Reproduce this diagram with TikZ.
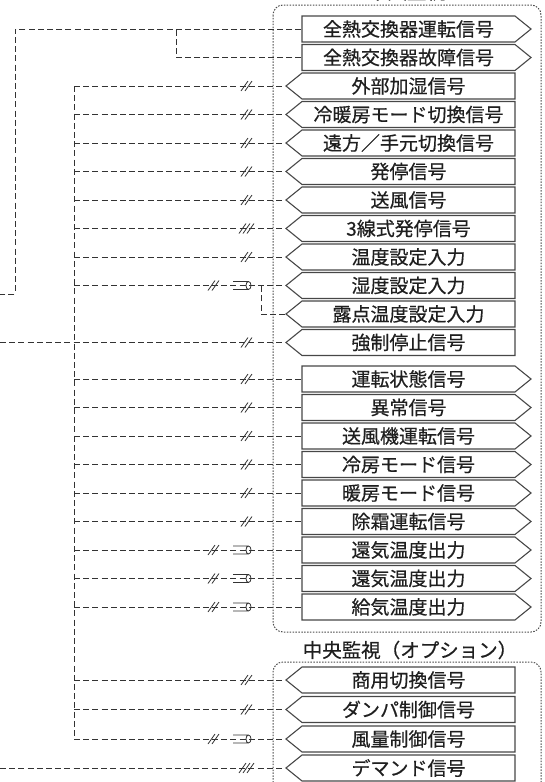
\documentclass[tikz,border=0pt]{standalone}
\usepackage{fontspec}
\newfontfamily\jp[FakeBold=0.5]{Noto Sans CJK JP}
\usepackage{tikz}
\usetikzlibrary{shapes,shapes.symbols,positioning}
\usepackage{xcolor}
\definecolor{wirec}{gray}{0.2}
\definecolor{boxc}{gray}{0.28}
\definecolor{dotc}{gray}{0.3}
\definecolor{txtc}{gray}{0.12}

\begin{document}
\begin{tikzpicture}[x=1pt, y=-1pt,
    wire/.style={draw=wirec, line width=0.9pt, dash pattern=on 6pt off 3.2pt},
    frame/.style={draw=dotc, line width=1pt, dash pattern=on 1.5pt off 1.4pt, rounded corners=10pt},
    sigout/.style={signal, signal to=east, signal pointer angle=78, draw=boxc, line width=1.1pt,
        minimum width=229pt, minimum height=26pt, inner sep=0pt, text=txtc, font=\jp\fontsize{19}{21}\selectfont},
    sigin/.style={sigout, signal to=west},
    label/.style={text=txtc, font=\jp\fontsize{19.5}{21}\selectfont},
    dbl/.pic={\draw[solid, draw=wirec, line width=0.8pt] (-6,5) -- (1,-5) (-2,5) -- (5,-5);},
    tpl/.pic={\draw[solid, draw=wirec, line width=0.8pt] (-8,5) -- (-1,-5) (-4,5) -- (3,-5) (0,5) -- (7,-5);},
    shield/.pic={\draw[solid, draw=wirec, line width=0.8pt] (-7,-4) -- (8,-4) (-7,4) -- (8,4) (8.5,0) ellipse (2.5 and 4);}
  ]
    \useasboundingbox (0,0) rectangle (544,782);

    % unit side (top frame)
    \draw[frame] (273,5) rectangle (541,632);
    \node[label, anchor=base] (top) at (407,-1) {中央監視};

    \node[sigout] (s1) at (408.5,29) {全熱交換器運転信号};
    \node[sigout] (s2) at (408.5,57.5) {全熱交換器故障信号};
    \node[sigin] (s3) at (408.5,86) {外部加湿信号};
    \node[sigin] (s4) at (408.5,114.5) {冷暖房モード切換信号};
    \node[sigin] (s5) at (408.5,143) {遠方／手元切換信号};
    \node[sigin] (s6) at (408.5,171.5) {発停信号};
    \node[sigin] (s7) at (408.5,200) {送風信号};
    \node[sigin] (s8) at (408.5,228.5) {3線式発停信号};
    \node[sigin] (s9) at (408.5,257) {温度設定入力};
    \node[sigin] (s10) at (408.5,285.5) {湿度設定入力};
    \node[sigin] (s11) at (408.5,314) {露点温度設定入力};
    \node[sigin] (s12) at (408.5,342.5) {強制停止信号};

    \node[sigout] (s13) at (408.5,379) {運転状態信号};
    \node[sigout] (s14) at (408.5,407.5) {異常信号};
    \node[sigout] (s15) at (408.5,436) {送風機運転信号};
    \node[sigout] (s16) at (408.5,464.5) {冷房モード信号};
    \node[sigout] (s17) at (408.5,493) {暖房モード信号};
    \node[sigout] (s18) at (408.5,521.5) {除霜運転信号};
    \node[sigout] (s19) at (408.5,550) {還気温度出力};
    \node[sigout] (s20) at (408.5,578.5) {還気温度出力};
    \node[sigout] (s21) at (408.5,607) {給気温度出力};

    % option side (bottom frame)
    \node[label] (opt) at (410,650) {中央監視（オプション）};
    \draw[frame] (273,800) -- (273,662) -- (541,662) -- (541,800);

    \node[sigin] (s22) at (408.5,680) {商用切換信号};
    \node[sigin] (s23) at (408.5,709.5) {ダンパ制御信号};
    \node[sigin] (s24) at (408.5,739) {風量制御信号};
    \node[sigin] (s25) at (408.5,768) {デマンド信号};

    % helper points for the wiring
    \coordinate (edge) at (0,0);
    \coordinate (lft) at (15,294);
    \coordinate (bus) at (74,0);
    \coordinate (brA) at (176,0);
    \coordinate (brB) at (261,0);
    \coordinate (sh) at (214,0);
    \coordinate (shd) at (240,0);
    \coordinate (mk) at (247,0);

    % wiring
    \draw[wire] (s1.west) -| (lft) -- (edge |- lft);
    \draw[wire] (s2.west) -| (brA |- s1.west);
    \draw[wire] (bus |- s3.west) -- (bus |- s24.west);

    \draw[wire] (bus |- s3.west) -- (s3.west) (mk |- s3.west) pic {dbl};
    \draw[wire] (bus |- s4.west) -- (s4.west) (mk |- s4.west) pic {dbl};
    \draw[wire] (bus |- s5.west) -- (s5.west) (mk |- s5.west) pic {dbl};
    \draw[wire] (bus |- s6.west) -- (s6.west) (mk |- s6.west) pic {dbl};
    \draw[wire] (bus |- s7.west) -- (s7.west) (mk |- s7.west) pic {dbl};
    \draw[wire] (bus |- s8.west) -- (s8.west) (mk |- s8.west) pic {tpl};
    \draw[wire] (bus |- s9.west) -- (s9.west) (mk |- s9.west) pic {dbl};
    \draw[wire] (bus |- s10.west) -- (s10.west) (sh |- s10.west) pic {dbl} (shd |- s10.west) pic {shield};
    \draw[wire] (s11.west) -| (brB |- s10.west);
    \draw[wire] (edge |- s12.west) -- (s12.west) (mk |- s12.west) pic {dbl};

    \draw[wire] (bus |- s13.west) -- (s13.west) (mk |- s13.west) pic {dbl};
    \draw[wire] (bus |- s14.west) -- (s14.west) (mk |- s14.west) pic {dbl};
    \draw[wire] (bus |- s15.west) -- (s15.west) (mk |- s15.west) pic {dbl};
    \draw[wire] (bus |- s16.west) -- (s16.west) (mk |- s16.west) pic {dbl};
    \draw[wire] (bus |- s17.west) -- (s17.west) (mk |- s17.west) pic {dbl};
    \draw[wire] (bus |- s18.west) -- (s18.west) (mk |- s18.west) pic {dbl};
    \draw[wire] (bus |- s19.west) -- (s19.west) (sh |- s19.west) pic {dbl} (shd |- s19.west) pic {shield};
    \draw[wire] (bus |- s20.west) -- (s20.west) (sh |- s20.west) pic {dbl} (shd |- s20.west) pic {shield};
    \draw[wire] (bus |- s21.west) -- (s21.west) (sh |- s21.west) pic {dbl} (shd |- s21.west) pic {shield};

    \draw[wire] (bus |- s22.west) -- (s22.west) (mk |- s22.west) pic {dbl};
    \draw[wire] (bus |- s23.west) -- (s23.west) (mk |- s23.west) pic {dbl};
    \draw[wire] (bus |- s24.west) -- (s24.west) (sh |- s24.west) pic {dbl} (shd |- s24.west) pic {shield};
    \draw[wire] (edge |- s25.west) -- (s25.west) (mk |- s25.west) pic {tpl};

\end{tikzpicture}
\end{document}
